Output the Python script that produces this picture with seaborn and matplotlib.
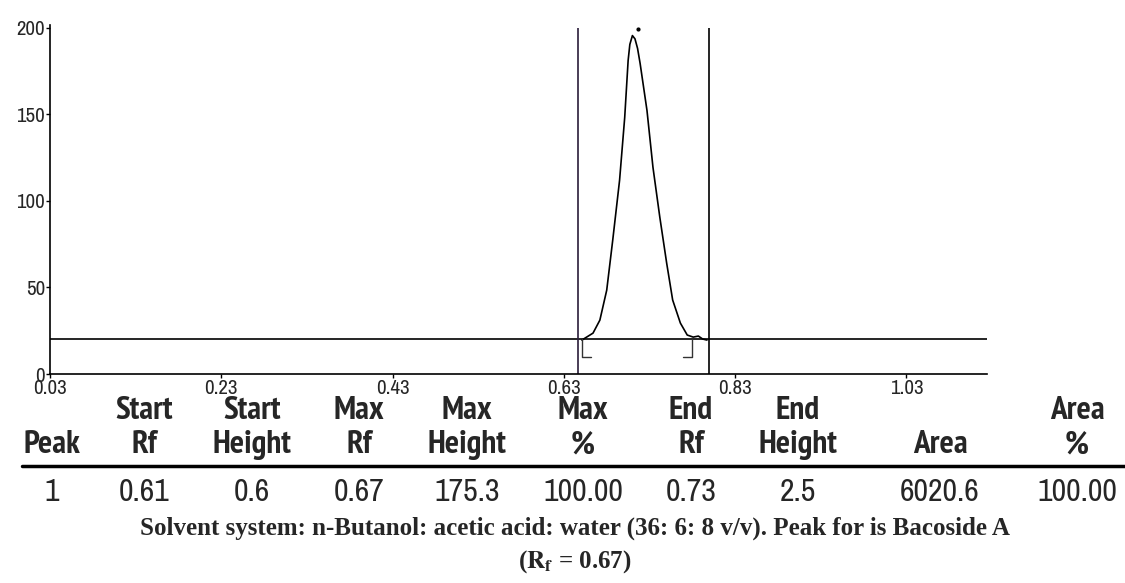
import matplotlib
matplotlib.use("Agg")
import matplotlib.pyplot as plt
from matplotlib.lines import Line2D
import seaborn as sns
import pandas as pd

# densitometric scan
rf_profile = [0.651, 0.664, 0.672, 0.680, 0.687, 0.695, 0.701, 0.705, 0.707, 0.710,
              0.713, 0.716, 0.719, 0.727, 0.734, 0.742, 0.750, 0.757, 0.766, 0.774,
              0.781, 0.787, 0.792, 0.797]
height_profile = [19.6, 23.6, 31.1, 48.4, 77.2, 111.8, 148.1, 181.0, 190.3, 195.4,
                  193.5, 188.0, 179.3, 152.2, 119.3, 90.5, 64.0, 42.7, 29.4, 22.5,
                  21.3, 21.9, 20.2, 19.6]
baseline_height = 20
window_rf = [0.646, 0.799]
bracket_rf = [0.651, 0.779]
bracket_depth = 10
bracket_len = 0.0105
apex_dot = (0.717, 199)

x_ticks = [0.03, 0.23, 0.43, 0.63, 0.83, 1.03]
y_ticks = [0, 50, 100, 150, 200]

header_top = ["", "Start", "Start", "Max", "Max", "Max", "End", "End", "", "Area"]
header_bottom = ["Peak", "Rf", "Height", "Rf", "Height", "%", "Rf", "Height", "Area", "%"]
row_values = ["1", "0.61", "0.6", "0.67", "175.3", "100.00", "0.73", "2.5", "6020.6", "100.00"]

caption_1 = "Solvent system: n-Butanol: acetic acid: water (36: 6: 8 v/v). Peak for is Bacoside A"
caption_2 = r"($\mathbf{R_f}$ = 0.67)"

sns.set_style("ticks")
plt.rcParams["font.family"] = ["Archivo Narrow", "Liberation Sans", "DejaVu Sans"]
plt.rcParams["mathtext.fontset"] = "stix"
narrow_bold = ["PT Sans Narrow", "Roboto Condensed", "Liberation Sans"]
serif = ["Liberation Serif", "DejaVu Serif"]

W, H = 1125, 583
fig = plt.figure(figsize=(W / 100, H / 100), dpi=100)
ax = fig.add_axes([50 / W, 1 - 374 / H, (987 - 50) / W, (374 - 25) / H])

df = pd.DataFrame({"rf": rf_profile, "height": height_profile})
sns.lineplot(data=df, x="rf", y="height", color="black", lw=1.2, ax=ax)
ax.axhline(baseline_height, color="black", lw=1.2)
ax.vlines(window_rf[:1], 0, 200, color="#2a1d3a", lw=1.2)
ax.vlines(window_rf[1:], 0, 200, color="black", lw=1.2)

# integration brackets
for i, rf in enumerate(bracket_rf):
    d = bracket_len if i == 0 else -bracket_len
    ax.plot([rf, rf, rf + d],
            [baseline_height, baseline_height - bracket_depth, baseline_height - bracket_depth],
            color="#333333", lw=1.0)
ax.plot([apex_dot[0]], [apex_dot[1]], marker="o", ms=2, color="black")

ax.set_xlim(0.03, 1.124)
ax.set_ylim(0, 201.5)
ax.set_xticks(x_ticks)
ax.set_xticklabels([f"{t:.2f}" for t in x_ticks])
ax.set_yticks(y_ticks)
ax.tick_params(axis="both", labelsize=15, length=3, width=1, color="black", pad=0.5)
ax.set_xlabel("")
ax.set_ylabel("")
sns.despine(ax=ax)
for s in ["left", "bottom"]:
    ax.spines[s].set_linewidth(1.2)
    ax.spines[s].set_color("black")

# peak table
col_x = [52, 144, 252, 359, 467, 583, 691, 798, 940, 1077]
for x, t1, t2, v in zip(col_x, header_top, header_bottom, row_values):
    fig.text(x / W, 1 - 411 / H, t1, ha="center", va="center", fontsize=24,
             fontweight="bold", family=narrow_bold)
    fig.text(x / W, 1 - 445 / H, t2, ha="center", va="center", fontsize=24,
             fontweight="bold", family=narrow_bold)
    fig.text(x / W, 1 - 492 / H, v, ha="center", va="center", fontsize=23)
fig.add_artist(Line2D([22 / W, 1.0], [1 - 466 / H] * 2, color="black", lw=2.5))

fig.text(575 / W, 1 - 528 / H, caption_1, ha="center", va="center", fontsize=18,
         fontweight="bold", family=serif)
fig.text(575 / W, 1 - 562 / H, caption_2, ha="center", va="center", fontsize=18,
         fontweight="bold", family=serif)

fig.savefig("out.png", dpi=100)
